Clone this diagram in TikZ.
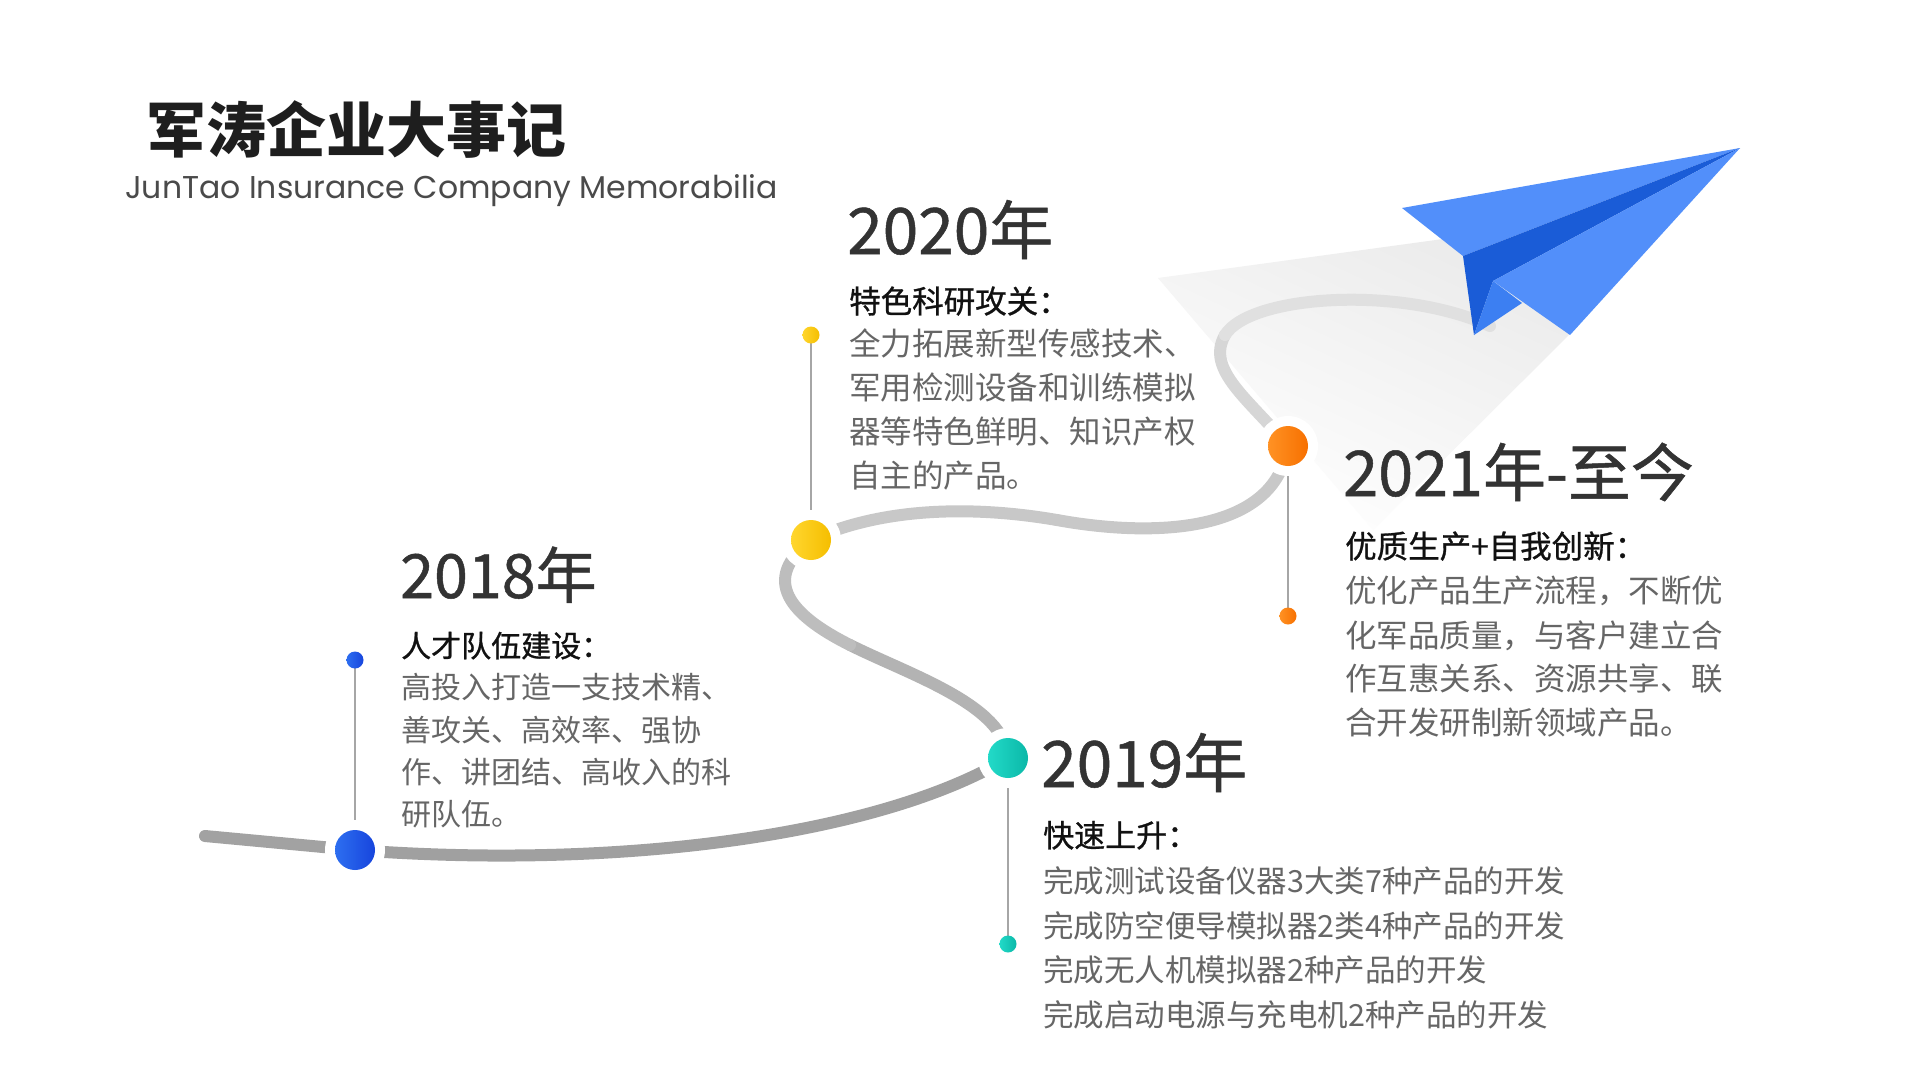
\documentclass[tikz,border=0pt]{standalone}
\usepackage{fontspec}
\setmainfont{Noto Sans CJK SC}
\newfontfamily\headfont[FakeBold=0.9]{Noto Sans CJK SC}
\newfontfamily\yearfont[FakeBold=0.8]{Noto Sans CJK SC}
\newfontfamily\subfont{Poppins}
\definecolor{ctitle}{HTML}{1E1E1E}
\definecolor{cyear}{HTML}{333333}
\definecolor{chead}{HTML}{111111}
\definecolor{cbody}{HTML}{666666}
\definecolor{csub}{HTML}{4A4A4A}
\definecolor{cline}{HTML}{A6A6A6}
\definecolor{p0}{HTML}{A2A2A2}
\definecolor{p1}{HTML}{A0A0A0}
\definecolor{p2}{HTML}{B3B3B3}
\definecolor{p3}{HTML}{BDBDBD}
\definecolor{p4}{HTML}{C8C8C8}
\definecolor{p5}{HTML}{D6D6D6}
\definecolor{p6}{HTML}{E0E0E0}
\definecolor{bl1}{HTML}{2D6EF0}
\definecolor{bl2}{HTML}{1745DD}
\definecolor{ye1}{HTML}{FFD62E}
\definecolor{ye2}{HTML}{F5BE00}
\definecolor{te1}{HTML}{22DAC8}
\definecolor{te2}{HTML}{0BB8A8}
\definecolor{or1}{HTML}{FF9224}
\definecolor{or2}{HTML}{F77000}
\definecolor{planeLight}{HTML}{528FFA}
\definecolor{planeDark}{HTML}{1A5CD7}
\definecolor{planeMid}{HTML}{3C7FF2}
\definecolor{shadowc}{HTML}{EBEBEB}
\begin{document}
\begin{tikzpicture}[x=1pt,y=-1pt,
  trail/.style={line width=12pt, line cap=round},
  ring/.style={circle, fill=white, minimum size=60pt, inner sep=0pt},
  bigdot/.style={circle, minimum size=40pt, inner sep=0pt},
  smalldot/.style={circle, minimum size=17pt, inner sep=0pt},
  stem/.style={line width=2pt, draw=cline},
  yeartext/.style={anchor=base west, inner sep=0pt, text=cyear},
  headtext/.style={anchor=base west, inner sep=0pt, text=chead},
  bodytext/.style={anchor=base west, inner sep=0pt, text=cbody}]
\useasboundingbox (0,0) rectangle (1920,1080);
\fill[white] (0,0) rectangle (1920,1080);

% plane trail shadow
\coordinate (S1) at (1158,278);
\coordinate (S2) at (1465,236);
\coordinate (S3) at (1578,326);
\coordinate (S4) at (1373,530);
\shade[top color=shadowc, bottom color=white, shading angle=-25] (S1) -- (S2) -- (S3) -- (S4) -- cycle;

% path coordinates
\coordinate (P0) at (205,836);
\coordinate (B) at (355,850);
\coordinate (T) at (1008,758);
\coordinate (M1) at (850,645);
\coordinate (Y) at (811,540);
\coordinate (M2) at (1057,520);
\coordinate (O) at (1288,446);
\coordinate (M3) at (1225,335);
\coordinate (Pend) at (1490,326);
\coordinate (Bs) at (355,660);
\coordinate (Ys) at (811,335);
\coordinate (Ts) at (1008,944);
\coordinate (Os) at (1288,616);

\draw[trail, draw=p0] (P0) -- (B);
\draw[trail, draw=p1] (B) .. controls (620,870) and (880,835) .. (T);
\draw[trail, draw=p2] (T) .. controls (1005,705) and (910,675) .. (M1);
\draw[trail, draw=p3] (M1) .. controls (790,615) and (760,580) .. (Y);
\draw[trail, draw=p4] (Y) .. controls (880,508) and (970,505) .. (M2);
\draw[trail, draw=p4] (M2) .. controls (1150,537) and (1275,535) .. (O);
\draw[trail, draw=p5] (O) .. controls (1250,400) and (1205,370) .. (M3);
\draw[trail, draw=p6] (M3) .. controls (1250,295) and (1400,285) .. (Pend);

% stems
\draw[stem] (Bs) -- (B);
\draw[stem] (Ys) -- (Y);
\draw[stem] (T) -- (Ts);
\draw[stem] (O) -- (Os);

% rings and dots
\node[ring] (Br) at (B) {};
\node[ring] (Tr) at (T) {};
\node[ring] (Yr) at (Y) {};
\node[ring] (Or) at (O) {};
\node[bigdot, left color=bl1, right color=bl2] (Bd) at (B) {};
\node[bigdot, left color=ye1, right color=ye2] (Yd) at (Y) {};
\node[bigdot, left color=te1, right color=te2] (Td) at (T) {};
\node[bigdot, left color=or1, right color=or2] (Od) at (O) {};
\node[smalldot, left color=bl1, right color=bl2] (Bsd) at (Bs) {};
\node[smalldot, left color=ye1, right color=ye2] (Ysd) at (Ys) {};
\node[smalldot, left color=te1, right color=te2] (Tsd) at (Ts) {};
\node[smalldot, left color=or1, right color=or2] (Osd) at (Os) {};

% paper plane
\coordinate (Ptip) at (1740,148);
\coordinate (PL) at (1402,208);
\coordinate (PF) at (1463,256);
\coordinate (PK) at (1474,335);
\coordinate (PI) at (1493,281);
\coordinate (PN) at (1522,303);
\coordinate (PR) at (1570,335);
\fill[planeLight] (Ptip) -- (PL) -- (PF) -- cycle;
\fill[planeDark] (PF) -- (PK) -- (PI) -- (Ptip) -- cycle;
\fill[planeMid] (PK) -- (PI) -- (PN) -- cycle;
\fill[planeLight] (PI) -- (Ptip) -- (PR) -- cycle;

% title
\node[anchor=base west, inner sep=0pt, text=ctitle, font=\bfseries\fontsize{60}{60}\selectfont] (title) at (146,152) {军涛企业大事记};
\node[anchor=base west, inner sep=0pt, text=csub, font=\subfont\fontsize{31.5}{31.5}\selectfont] (subtitle) at (125,198) {JunTao Insurance Company Memorabilia};

% 2020
\node[yeartext, font=\yearfont\fontsize{64}{64}\selectfont] (y20) at (847,254) {2020年};
\node[headtext, font=\headfont\fontsize{31.5}{31.5}\selectfont] (h20) at (849,313) {特色科研攻关：};
\node[bodytext, font=\fontsize{31.5}{31.5}\selectfont] (b20a) at (849,355) {全力拓展新型传感技术、};
\node[bodytext, font=\fontsize{31.5}{31.5}\selectfont] (b20b) at (849,399) {军用检测设备和训练模拟};
\node[bodytext, font=\fontsize{31.5}{31.5}\selectfont] (b20c) at (849,443) {器等特色鲜明、知识产权};
\node[bodytext, font=\fontsize{31.5}{31.5}\selectfont] (b20d) at (849,487) {自主的产品。};

% 2018
\node[yeartext, font=\yearfont\fontsize{61}{61}\selectfont] (y18) at (400,598) {2018年};
\node[headtext, font=\headfont\fontsize{30}{30}\selectfont] (h18) at (401,657) {人才队伍建设：};
\node[bodytext, font=\fontsize{30}{30}\selectfont] (b18a) at (401,698) {高投入打造一支技术精、};
\node[bodytext, font=\fontsize{30}{30}\selectfont] (b18b) at (401,741) {善攻关、高效率、强协};
\node[bodytext, font=\fontsize{30}{30}\selectfont] (b18c) at (401,783) {作、讲团结、高收入的科};
\node[bodytext, font=\fontsize{30}{30}\selectfont] (b18d) at (401,825) {研队伍。};

% 2019
\node[yeartext, font=\yearfont\fontsize{64}{64}\selectfont] (y19) at (1041,787) {2019年};
\node[headtext, font=\headfont\fontsize{31}{31}\selectfont] (h19) at (1043,847) {快速上升：};
\node[bodytext, font=\fontsize{30.5}{30.5}\selectfont] (b19a) at (1043,892) {完成测试设备仪器3大类7种产品的开发};
\node[bodytext, font=\fontsize{30.5}{30.5}\selectfont] (b19b) at (1043,937) {完成防空便导模拟器2类4种产品的开发};
\node[bodytext, font=\fontsize{30.5}{30.5}\selectfont] (b19c) at (1043,981) {完成无人机模拟器2种产品的开发};
\node[bodytext, font=\fontsize{30.5}{30.5}\selectfont] (b19d) at (1043,1026) {完成启动电源与充电机2种产品的开发};

% 2021
\node[yeartext, font=\yearfont\fontsize{63}{63}\selectfont] (y21) at (1343,496) {2021年-至今};
\node[headtext, font=\headfont\fontsize{31.5}{31.5}\selectfont] (h21) at (1345,558) {优质生产+自我创新：};
\node[bodytext, font=\fontsize{31.5}{31.5}\selectfont] (b21a) at (1345,602) {优化产品生产流程，不断优};
\node[bodytext, font=\fontsize{31.5}{31.5}\selectfont] (b21b) at (1345,647) {化军品质量，与客户建立合};
\node[bodytext, font=\fontsize{31.5}{31.5}\selectfont] (b21c) at (1345,690) {作互惠关系、资源共享、联};
\node[bodytext, font=\fontsize{31.5}{31.5}\selectfont] (b21d) at (1345,734) {合开发研制新领域产品。};
\end{tikzpicture}
\end{document}
